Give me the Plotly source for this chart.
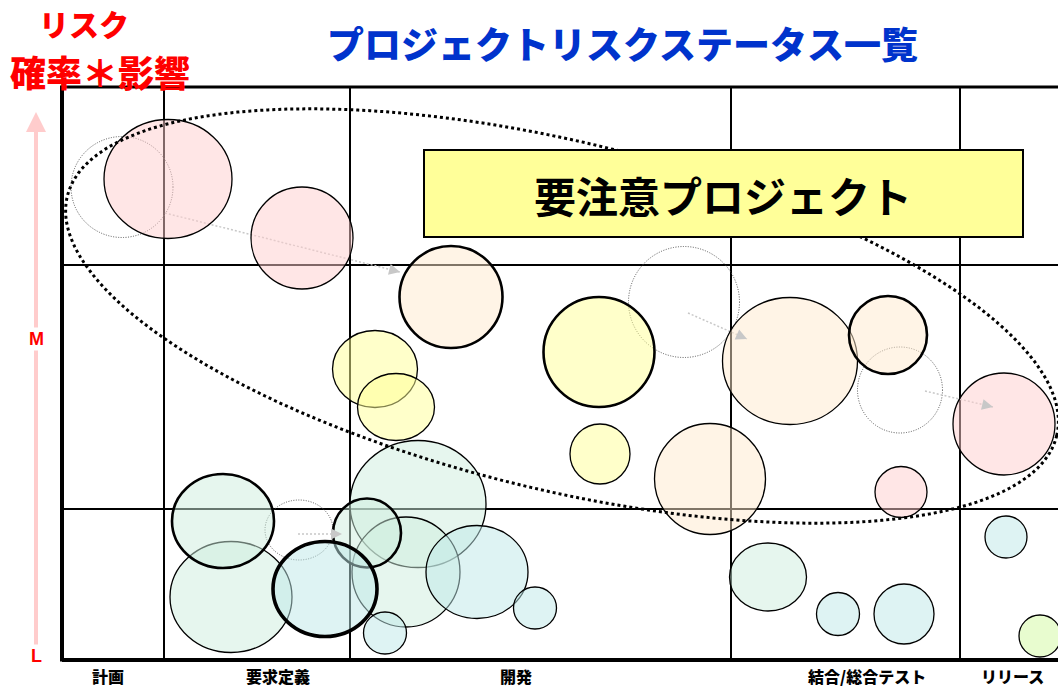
import numpy as np
import plotly.graph_objects as go

# ---------------- data ----------------
stage_labels = ["計画", "要求定義", "開発", "結合/総合テスト", "リリース"]
stage_label_x = [46, 216, 454, 805, 950]
stage_bounds = [102, 288, 669, 898]
risk_bounds = [151, 395]
risk_labels = ["L", "M"]
risk_label_y = [4, 321]

# current project positions (x: progress, y: risk = probability * impact)
proj_x = [106, 240, 942, 839, 728, 648, 313, 334, 538, 169, 356, 344, 706, 415, 473, 323, 944, 842, 776, 978, 389, 537, 826, 161, 305, 263]
proj_y = [481, 422, 236, 168, 299, 181, 291, 253, 206, 63, 156, 88, 83, 88, 52, 27, 123, 46, 46, 24, 363, 308, 325, 139, 127, 71]
proj_w = [128, 102, 102, 52, 135, 111, 85, 77, 60, 122, 136, 108, 77, 102, 43, 43, 42, 60, 43, 42, 103, 111, 78, 102, 68, 104]
proj_h = [119, 102, 102, 51, 127, 111, 77, 67, 60, 111, 127, 110, 68, 93, 42, 42, 42, 60, 43, 42, 102, 110, 78, 94, 69, 95]
proj_status = ["H", "H", "H", "H", "HM", "HM", "M", "M", "M", "ML", "ML", "ML", "ML", "L", "L", "L", "L", "L", "L", "LG", "HM", "M", "HM", "ML", "ML", "L"]
proj_flag = [0, 0, 0, 0, 0, 0, 0, 0, 0, 0, 0, 0, 0, 0, 0, 0, 0, 0, 0, 0, 1, 1, 1, 1, 1, 2]

# previous positions (ghosts) and movement arrows
prev_x = [60, 622, 838, 237]
prev_y = [473, 358, 270, 130]
prev_w = [102, 111, 85, 68]
prev_h = [101, 111, 86, 60]
arrow_x0 = [103, 626, 863, 236]
arrow_y0 = [447, 347, 269, 126]
arrow_x1 = [338, 685, 931, 280]
arrow_y1 = [388, 321, 253, 126]

# "要注意" zone
zone_cx, zone_cy, zone_a, zone_b, zone_angle = 500, 344, 509, 174, -13.6
callout_text = "要注意プロジェクト"
title_text = "プロジェクトリスクステータス一覧"
ylabel_1 = "リスク"
ylabel_2 = "確率＊影響"

# ---------------- styles ----------------
status_fill = {
    "H": "rgba(255,205,205,0.5)",
    "HM": "rgba(255,234,205,0.5)",
    "M": "rgba(255,255,150,0.5)",
    "ML": "rgba(205,238,222,0.5)",
    "L": "rgba(190,232,232,0.5)",
    "LG": "rgba(210,250,160,0.5)",
}
flag_width = {0: 1.3, 1: 2.6, 2: 3.6}
JP = "Noto Sans CJK JP"

XMIN, XMAX, YMIN, YMAX = -62, 996, -27, 660
PLOT_TOP = 573

shapes = []
# grid
for xb in stage_bounds:
    shapes.append(dict(type="line", x0=xb, x1=xb, y0=0, y1=PLOT_TOP, xref="x", yref="y",
                       line=dict(color="black", width=2)))
for yb in risk_bounds:
    shapes.append(dict(type="line", x0=0, x1=XMAX, y0=yb, y1=yb, xref="x", yref="y",
                       line=dict(color="black", width=2)))
# frame
shapes.append(dict(type="line", x0=0, x1=XMAX, y0=PLOT_TOP, y1=PLOT_TOP, xref="x", yref="y",
                   line=dict(color="black", width=3)))
shapes.append(dict(type="line", x0=0, x1=XMAX, y0=0, y1=0, xref="x", yref="y",
                   line=dict(color="black", width=4)))
shapes.append(dict(type="line", x0=0, x1=0, y0=-1.5, y1=PLOT_TOP + 1.5, xref="x", yref="y",
                   line=dict(color="black", width=4)))

# ghosts
for x, y, w, h in zip(prev_x, prev_y, prev_w, prev_h):
    shapes.append(dict(type="circle", xref="x", yref="y", x0=x - w / 2, x1=x + w / 2,
                       y0=y - h / 2, y1=y + h / 2, fillcolor="rgba(0,0,0,0)",
                       line=dict(color="#555555", width=1, dash="1px,1.5px")))
# arrows lines
for x0, y0, x1, y1 in zip(arrow_x0, arrow_y0, arrow_x1, arrow_y1):
    shapes.append(dict(type="line", xref="x", yref="y", x0=x0, y0=y0, x1=x1, y1=y1,
                       line=dict(color="#C8C8C8", width=1.5, dash="2px,2px")))

# bubbles (thin first, emphasised last)
order = sorted(range(len(proj_x)), key=lambda i: proj_flag[i])
for i in order:
    x, y, w, h = proj_x[i], proj_y[i], proj_w[i], proj_h[i]
    shapes.append(dict(type="circle", xref="x", yref="y", x0=x - w / 2, x1=x + w / 2,
                       y0=y - h / 2, y1=y + h / 2, fillcolor=status_fill[proj_status[i]],
                       line=dict(color="black", width=flag_width[proj_flag[i]])))

# zone ellipse
t = np.linspace(0, 2 * np.pi, 240)
ang = np.deg2rad(zone_angle)
ex = zone_cx + zone_a * np.cos(t) * np.cos(ang) - zone_b * np.sin(t) * np.sin(ang)
ey = zone_cy + zone_a * np.cos(t) * np.sin(ang) + zone_b * np.sin(t) * np.cos(ang)
path = "M " + " L ".join(f"{a:.1f},{b:.1f}" for a, b in zip(ex, ey)) + " Z"
shapes.append(dict(type="path", path=path, xref="x", yref="y",
                   line=dict(color="black", width=3, dash="dot")))

# callout box
shapes.append(dict(type="rect", xref="x", yref="y", x0=362, x1=961, y0=423, y1=510,
                   fillcolor="#FFFF99", line=dict(color="black", width=2)))

annotations = []
annotations.append(dict(x=661, y=466, xref="x", yref="y", text=callout_text, showarrow=False,
                        font=dict(family=JP, size=42, color="black", weight=700),
                        xanchor="center", yanchor="middle"))
annotations.append(dict(x=560, y=617, xref="x", yref="y", text=title_text, showarrow=False,
                        font=dict(family=JP, size=37, color="#0033CC", weight=900),
                        xanchor="center", yanchor="middle"))
annotations.append(dict(x=22, y=637, xref="x", yref="y", text=ylabel_1, showarrow=False,
                        font=dict(family=JP, size=30, color="#FF0000", weight=900),
                        xanchor="center", yanchor="middle"))
annotations.append(dict(x=38, y=589, xref="x", yref="y", text=ylabel_2, showarrow=False,
                        font=dict(family=JP, size=36, color="#FF0000", weight=900),
                        xanchor="center", yanchor="middle"))
for lab, lx in zip(stage_labels, stage_label_x):
    annotations.append(dict(x=lx, y=-16, xref="x", yref="y", text=lab, showarrow=False,
                            font=dict(family=JP, size=16, color="black", weight=900),
                            xanchor="center", yanchor="middle"))
# risk axis arrow
annotations.append(dict(x=-26, y=548, ax=-26, ay=12, xref="x", yref="y", axref="x", ayref="y",
                        text="", showarrow=True, arrowhead=2, arrowsize=1, arrowwidth=4,
                        arrowcolor="#FFCCCC"))
for lab, ly in zip(risk_labels, risk_label_y):
    annotations.append(dict(x=-26, y=ly, xref="x", yref="y", text="<b>" + lab + "</b>", showarrow=False,
                            font=dict(family="Liberation Sans", size=18, color="#FF0000"),
                            xanchor="center", yanchor="middle", bgcolor="white"))
# movement arrow heads
for x0, y0, x1, y1 in zip(arrow_x0, arrow_y0, arrow_x1, arrow_y1):
    d = np.hypot(x1 - x0, y1 - y0)
    ux, uy = (x1 - x0) / d, (y1 - y0) / d
    annotations.append(dict(x=x1, y=y1, ax=x1 - 6 * ux, ay=y1 - 6 * uy, xref="x", yref="y",
                            axref="x", ayref="y", text="", showarrow=True, arrowhead=2,
                            arrowsize=2.2, arrowwidth=1, arrowcolor="#C8C8C8"))

fig = go.Figure()
fig.add_trace(go.Scatter(x=[XMIN, XMAX], y=[YMIN, YMAX], mode="markers",
                         marker=dict(opacity=0), hoverinfo="skip", showlegend=False))
fig.update_layout(
    width=1058, height=687,
    margin=dict(l=0, r=0, t=0, b=0),
    paper_bgcolor="white", plot_bgcolor="white",
    xaxis=dict(range=[XMIN, XMAX], visible=False, fixedrange=True),
    yaxis=dict(range=[YMIN, YMAX], visible=False, fixedrange=True),
    shapes=shapes, annotations=annotations, showlegend=False,
)
fig.write_html("out.html")
